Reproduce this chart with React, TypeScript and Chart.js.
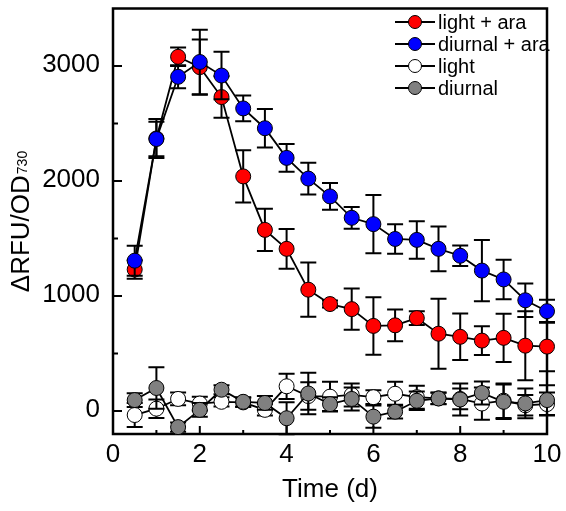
import React, { useEffect, useRef } from "react";
import { Chart, registerables } from "chart.js";

Chart.register(...registerables);

const times = [0.5, 1, 1.5, 2, 2.5, 3, 3.5, 4, 4.5, 5, 5.5, 6, 6.5, 7, 7.5, 8, 8.5, 9, 9.5, 10];

const lightAra = [1230, 2370, 3080, 2990, 2730, 2040, 1575, 1410, 1055, 930, 886, 740, 745, 808, 672, 645, 612, 636, 568, 560];
const lightAraErr = [80, 170, 80, 240, 180, 227, 183, 172, 236, 30, 180, 250, 138, 60, 305, 202, 125, 210, 300, 215];

const diurnalAra = [1307, 2365, 2906, 3035, 2917, 2631, 2459, 2201, 2021, 1866, 1680, 1625, 1496, 1488, 1410, 1350, 1221, 1144, 963, 868];
const diurnalAraErr = [130, 150, 100, 280, 206, 112, 168, 120, 138, 116, 95, 254, 129, 163, 194, 90, 267, 172, 146, 100];

const light = [-35, 20, 105, 65, 80, 75, 10, 215, 130, 125, 140, 120, 150, 120, 110, 105, 65, 90, 50, 60];
const lightErr = [105, 80, 55, 60, 40, 40, 50, 110, 120, 130, 100, 60, 105, 100, 50, 90, 140, 150, 90, 100];

const diurnal = [95, 200, -140, 10, 185, 80, 70, -63, 152, 60, 105, -49, -6, 89, 109, 100, 157, 80, 66, 95];
const diurnalErr = [60, 180, 40, 60, 40, 40, 60, 140, 180, 60, 100, 97, 60, 80, 50, 140, 100, 150, 130, 130];

const seriesLabels = ["light + ara", "diurnal + ara", "light", "diurnal"];
const seriesColors = ["#ff0000", "#0000ff", "#ffffff", "#808080"];

const xTicks = [0, 2, 4, 6, 8, 10];
const xMinorTicks = [1, 3, 5, 7, 9];
const yTicks = [0, 1000, 2000, 3000];
const yMinorTicks = [500, 1500, 2500];

const FONT = "'Liberation Sans', Arial, sans-serif";

const errorBarPlugin = {
  id: "errorBars",
  beforeDatasetDraw(chart: any, args: any) {
    const ds = chart.data.datasets[args.index];
    const errs = ds.errors as number[];
    if (!errs) return;
    const ctx = chart.ctx;
    const ys = chart.scales.y;
    ctx.save();
    ctx.strokeStyle = "#000";
    ctx.lineWidth = 2;
    args.meta.data.forEach((pt: any, i: number) => {
      const v = ds.data[i].y;
      const e = errs[i];
      const top = ys.getPixelForValue(v + e);
      const bot = ys.getPixelForValue(v - e);
      const x = pt.x;
      ctx.beginPath();
      ctx.moveTo(x, top);
      ctx.lineTo(x, bot);
      ctx.moveTo(x - 8, top);
      ctx.lineTo(x + 8, top);
      ctx.moveTo(x - 8, bot);
      ctx.lineTo(x + 8, bot);
      ctx.stroke();
    });
    ctx.restore();
  },
};

const framePlugin = {
  id: "frame",
  beforeDatasetsDraw(chart: any) {
    const { ctx, chartArea } = chart;
    const xs = chart.scales.x;
    const ys = chart.scales.y;
    const { left, right, top, bottom } = chartArea;
    ctx.save();
    ctx.strokeStyle = "#000";
    ctx.lineWidth = 2.5;
    ctx.strokeRect(left, top, right - left, bottom - top);
    ctx.lineWidth = 2;
    ctx.beginPath();
    yTicks.forEach((v) => {
      const p = ys.getPixelForValue(v);
      ctx.moveTo(left, p);
      ctx.lineTo(left + 9, p);
    });
    yMinorTicks.forEach((v) => {
      const p = ys.getPixelForValue(v);
      ctx.moveTo(left, p);
      ctx.lineTo(left + 5, p);
    });
    xTicks.forEach((v) => {
      const p = xs.getPixelForValue(v);
      ctx.moveTo(p, bottom);
      ctx.lineTo(p, bottom - 8);
    });
    xMinorTicks.forEach((v) => {
      const p = xs.getPixelForValue(v);
      ctx.moveTo(p, bottom);
      ctx.lineTo(p, bottom - 4);
    });
    ctx.stroke();
    ctx.restore();
  },
  afterDraw(chart: any) {
    const { ctx, chartArea } = chart;
    ctx.save();
    // x title
    ctx.fillStyle = "#000";
    ctx.font = `26px ${FONT}`;
    ctx.textAlign = "center";
    ctx.textBaseline = "middle";
    ctx.fillText("Time (d)", (chartArea.left + chartArea.right) / 2, 490);

    // y title
    ctx.save();
    ctx.translate(29, 222);
    ctx.rotate(-Math.PI / 2);
    ctx.textAlign = "left";
    ctx.textBaseline = "alphabetic";
    ctx.font = `26px ${FONT}`;
    const main = "\u0394RFU/OD";
    const wMain = ctx.measureText(main).width;
    ctx.font = `14px ${FONT}`;
    const sub = "730";
    const wSub = ctx.measureText(sub).width;
    const start = -(wMain + wSub) / 2;
    ctx.font = `26px ${FONT}`;
    ctx.fillText(main, start, 0);
    ctx.font = `14px ${FONT}`;
    ctx.fillText(sub, start + wMain + 1, -2);
    ctx.restore();

    // legend
    ctx.font = `20px ${FONT}`;
    ctx.textAlign = "left";
    ctx.textBaseline = "middle";
    seriesLabels.forEach((lab, i) => {
      const y = 22 + i * 22;
      ctx.strokeStyle = "#000";
      ctx.lineWidth = 1.8;
      ctx.beginPath();
      ctx.moveTo(395, y);
      ctx.lineTo(435, y);
      ctx.stroke();
      ctx.beginPath();
      ctx.arc(415, y, 6.5, 0, Math.PI * 2);
      ctx.fillStyle = seriesColors[i];
      ctx.fill();
      ctx.lineWidth = 1;
      ctx.stroke();
      ctx.fillStyle = "#000";
      ctx.fillText(lab, 438, y + 1);
    });
    ctx.restore();
  },
};

function makeDataset(i: number, vals: number[], errs: number[], order: number) {
  return {
    label: seriesLabels[i],
    data: times.map((t, k) => ({ x: t, y: vals[k] })),
    errors: errs,
    borderColor: "#000",
    borderWidth: 1.8,
    backgroundColor: seriesColors[i],
    pointBackgroundColor: seriesColors[i],
    pointBorderColor: "#000",
    pointBorderWidth: 1,
    pointRadius: 7.5,
    pointHoverRadius: 7.5,
    showLine: true,
    tension: 0,
    clip: false,
    order,
  };
}

export default function App() {
  const ref = useRef<HTMLCanvasElement | null>(null);
  useEffect(() => {
    if (!ref.current) return;
    const chart = new Chart(ref.current, {
      type: "line",
      data: {
        datasets: [
          makeDataset(0, lightAra, lightAraErr, 4),
          makeDataset(1, diurnalAra, diurnalAraErr, 3),
          makeDataset(2, light, lightErr, 2),
          makeDataset(3, diurnal, diurnalErr, 1),
        ] as any,
      },
      options: {
        animation: false,
        responsive: true,
        maintainAspectRatio: false,
        layout: { padding: { top: 4, right: 19, left: 0, bottom: 0 } },
        plugins: { legend: { display: false }, tooltip: { enabled: false } },
        events: [],
        scales: {
          x: {
            type: "linear",
            min: 0,
            max: 10,
            grid: { display: false, drawTicks: false },
            border: { display: false },
            ticks: {
              font: { family: FONT, size: 26 },
              color: "#000",
              padding: 5,
              maxRotation: 0,
              callback: (v: any) => String(v),
            },
            afterBuildTicks: (s: any) => {
              s.ticks = xTicks.map((v) => ({ value: v }));
            },
            afterFit: (s: any) => {
              s.height = 77;
              s.paddingLeft = 0;
              s.paddingRight = 0;
            },
          },
          y: {
            type: "linear",
            min: -200,
            max: 3500,
            grid: { display: false, drawTicks: false },
            border: { display: false },
            ticks: {
              font: { family: FONT, size: 26 },
              color: "#000",
              padding: 13,
              labelOffset: -1,
              callback: (v: any) => String(v),
            },
            afterBuildTicks: (s: any) => {
              s.ticks = yTicks.map((v) => ({ value: v }));
            },
            afterFit: (s: any) => {
              s.width = 113;
              s.paddingTop = 0;
              s.paddingBottom = 0;
            },
          },
        },
      } as any,
      plugins: [errorBarPlugin, framePlugin],
    });
    return () => chart.destroy();
  }, []);
  return (
    <div style={{ position: "absolute", left: 0, top: 0, width: 566, height: 511, background: "#fff" }}>
      <canvas ref={ref} />
    </div>
  );
}
